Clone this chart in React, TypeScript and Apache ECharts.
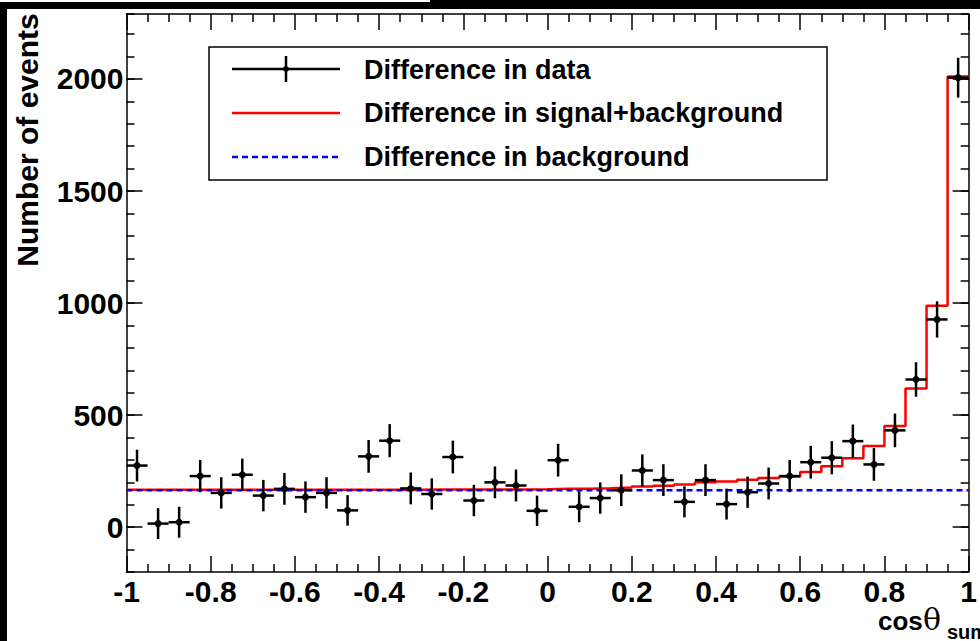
import React, { useEffect, useRef } from "react";
import * as echarts from "echarts";

// Bin centres (40 bins of width 0.05 between -1 and 1)
const binCenters = [
  -0.975, -0.925, -0.875, -0.825, -0.775, -0.725, -0.675, -0.625, -0.575, -0.525,
  -0.475, -0.425, -0.375, -0.325, -0.275, -0.225, -0.175, -0.125, -0.075, -0.025,
  0.025, 0.075, 0.125, 0.175, 0.225, 0.275, 0.325, 0.375, 0.425, 0.475,
  0.525, 0.575, 0.625, 0.675, 0.725, 0.775, 0.825, 0.875, 0.925, 0.975,
];
// Lower bin edges (+ the upper edge of the last bin)
const binEdges = [
  -1.0, -0.95, -0.9, -0.85, -0.8, -0.75, -0.7, -0.65, -0.6, -0.55,
  -0.5, -0.45, -0.4, -0.35, -0.3, -0.25, -0.2, -0.15, -0.1, -0.05,
  0.0, 0.05, 0.1, 0.15, 0.2, 0.25, 0.3, 0.35, 0.4, 0.45,
  0.5, 0.55, 0.6, 0.65, 0.7, 0.75, 0.8, 0.85, 0.9, 0.95, 1.0,
];
const halfBin = 0.025;

// Difference in data
const dataValues = [
  275, 16, 22, 228, 153, 234, 141, 171, 134, 153,
  75, 316, 386, 173, 148, 313, 119, 200, 186, 73,
  299, 91, 130, 165, 253, 210, 113, 210, 103, 156,
  195, 228, 290, 310, 384, 280, 432, 659, 927, 2006,
];
const dataErrors = [
  71, 69, 69, 72, 70, 72, 70, 71, 70, 70,
  68, 73, 74, 71, 70, 73, 70, 71, 71, 68,
  73, 69, 70, 71, 72, 71, 69, 71, 69, 70,
  71, 72, 73, 74, 74, 73, 75, 77, 81, 89,
];
// Difference in signal+background (histogram)
const sigBkgValues = [
  167, 167, 167, 167, 167, 167, 167, 167, 167, 167,
  167, 167, 167, 167, 168, 168, 168, 168, 168, 169,
  171, 172, 174, 177, 181, 185, 190, 200, 204, 212,
  219, 226, 246, 272, 308, 362, 451, 619, 988, 2011,
];
// Difference in background (flat)
const bkgLevel = 165;

const xMin = -1;
const xMax = 1;
const yMin = -200;
const yMax = 2290;
const yMajorTicks = [0, 500, 1000, 1500, 2000];

const legendLabels = [
  "Difference in data",
  "Difference in signal+background",
  "Difference in background",
];

const FONT = "'Liberation Sans', Arial, Helvetica, sans-serif";

export default function App() {
  const ref = useRef<HTMLDivElement>(null);

  useEffect(() => {
    if (!ref.current) return;
    const chart = echarts.init(ref.current, undefined, { renderer: "svg" });

    const histData: number[][] = sigBkgValues.map((v, i) => [binEdges[i], v]);
    histData.push([binEdges[binEdges.length - 1], sigBkgValues[sigBkgValues.length - 1]]);

    const pointData = binCenters.map((x, i) => [x, dataValues[i], dataErrors[i]]);

    const black = "#000";
    const tickStyle = { color: black, width: 1.5 };
    const labelStyle = {
      fontSize: 30,
      fontWeight: "bold" as const,
      fontFamily: FONT,
      color: black,
    };
    const fmtX = (v: number) => {
      const r = Math.round(v * 10) / 10;
      return String(r === 0 ? 0 : r);
    };
    const fmtY = (v: number) => String(Math.round(v));

    const axisLineCfg = { show: true, onZero: false, lineStyle: tickStyle };

    const option: any = {
      animation: false,
      backgroundColor: "#fff",
      grid: { left: 126.5, top: 14, width: 854, height: 558, containLabel: false },
      xAxis: [
        {
          type: "value",
          position: "bottom",
          min: xMin,
          max: xMax,
          interval: 0.2,
          axisLine: axisLineCfg,
          axisTick: { show: true, inside: true, length: 16, lineStyle: tickStyle },
          minorTick: { show: true, splitNumber: 4, length: 8, lineStyle: tickStyle },
          splitLine: { show: false },
          minorSplitLine: { show: false },
          axisLabel: { ...labelStyle, margin: 4, formatter: fmtX },
        },
        {
          type: "value",
          position: "top",
          min: xMin,
          max: xMax,
          interval: 0.2,
          axisLine: axisLineCfg,
          axisTick: { show: true, inside: true, length: 16, lineStyle: tickStyle },
          minorTick: { show: true, splitNumber: 4, length: 8, lineStyle: tickStyle },
          splitLine: { show: false },
          minorSplitLine: { show: false },
          axisLabel: { show: false },
        },
      ],
      yAxis: [
        {
          type: "value",
          position: "left",
          min: yMin,
          max: yMax,
          interval: 100,
          axisLine: axisLineCfg,
          axisTick: { show: true, inside: true, length: 8, lineStyle: tickStyle },
          splitLine: { show: false },
          axisLabel: { show: false },
        },
        {
          type: "value",
          position: "left",
          min: yMin,
          max: yMax,
          interval: 100,
          axisLine: { show: false, onZero: false },
          axisTick: { show: true, inside: true, length: 16, lineStyle: tickStyle, customValues: yMajorTicks },
          splitLine: { show: false },
          axisLabel: { ...labelStyle, margin: 3, customValues: yMajorTicks, formatter: fmtY },
        },
        {
          type: "value",
          position: "right",
          min: yMin,
          max: yMax,
          interval: 100,
          axisLine: axisLineCfg,
          axisTick: { show: true, inside: true, length: 8, lineStyle: tickStyle },
          splitLine: { show: false },
          axisLabel: { show: false },
        },
        {
          type: "value",
          position: "right",
          min: yMin,
          max: yMax,
          interval: 100,
          axisLine: { show: false, onZero: false },
          axisTick: { show: true, inside: true, length: 16, lineStyle: tickStyle, customValues: yMajorTicks },
          splitLine: { show: false },
          axisLabel: { show: false },
        },
      ],
      series: [
        {
          name: legendLabels[1],
          type: "line",
          xAxisIndex: 0,
          yAxisIndex: 0,
          step: "end",
          data: histData,
          symbol: "none",
          lineStyle: { color: "#ff0000", width: 2.5 },
          z: 2,
        },
        {
          name: legendLabels[2],
          type: "line",
          xAxisIndex: 0,
          yAxisIndex: 0,
          data: [
            [xMin, bkgLevel],
            [xMax, bkgLevel],
          ],
          symbol: "none",
          lineStyle: { color: "#0000ff", width: 2.5, type: [6, 4] },
          z: 3,
        },
        {
          name: legendLabels[0],
          type: "custom",
          xAxisIndex: 0,
          yAxisIndex: 0,
          data: pointData,
          z: 4,
          renderItem: (params: any, api: any) => {
            const x = api.value(0);
            const y = api.value(1);
            const e = api.value(2);
            const c = api.coord([x, y]);
            const top = api.coord([x, y + e]);
            const bot = api.coord([x, y - e]);
            const l = api.coord([x - halfBin, y]);
            const r = api.coord([x + halfBin, y]);
            const st = { stroke: black, lineWidth: 2.5 };
            return {
              type: "group",
              children: [
                { type: "line", shape: { x1: c[0], y1: top[1], x2: c[0], y2: bot[1] }, style: st },
                { type: "line", shape: { x1: l[0], y1: c[1], x2: r[0], y2: c[1] }, style: st },
                { type: "circle", shape: { cx: c[0], cy: c[1], r: 3.5 }, style: { fill: black } },
              ],
            };
          },
        },
      ],
      graphic: [
        // black scan borders
        { type: "rect", shape: { x: 0, y: 0, width: 980, height: 9 }, style: { fill: "#000" }, z: 100 },
        { type: "rect", shape: { x: 0, y: 0, width: 430, height: 2 }, style: { fill: "#fff" }, z: 101 },
        { type: "rect", shape: { x: 0, y: 0, width: 7, height: 641 }, style: { fill: "#000" }, z: 100 },
        // y-axis title
        {
          type: "text",
          x: 27,
          y: 140,
          rotation: Math.PI / 2,
          style: {
            text: "Number of events",
            font: `bold 30px ${FONT}`,
            fill: black,
            align: "center",
            verticalAlign: "middle",
          },
          z: 50,
        },
        // x-axis title
        {
          type: "text",
          x: 878,
          y: 621,
          style: {
            text: "cos",
            font: `bold 26px ${FONT}`,
            fill: black,
            align: "left",
            verticalAlign: "middle",
          },
          z: 50,
        },
        {
          type: "text",
          x: 923,
          y: 619,
          style: {
            text: "θ",
            font: `30px 'DejaVu Serif', serif`,
            fill: black,
            align: "left",
            verticalAlign: "middle",
          },
          z: 50,
        },
        {
          type: "text",
          x: 947,
          y: 632,
          style: {
            text: "sum",
            font: `bold 20px ${FONT}`,
            fill: black,
            align: "left",
            verticalAlign: "middle",
          },
          z: 50,
        },
        // legend box
        {
          type: "rect",
          shape: { x: 209, y: 47, width: 618, height: 133 },
          style: { fill: "#fff", stroke: black, lineWidth: 1.5 },
          z: 40,
        },
        { type: "line", shape: { x1: 232, y1: 69, x2: 340, y2: 69 }, style: { stroke: black, lineWidth: 2.5 }, z: 41 },
        { type: "line", shape: { x1: 286, y1: 56, x2: 286, y2: 82 }, style: { stroke: black, lineWidth: 2.5 }, z: 41 },
        { type: "circle", shape: { cx: 286, cy: 69, r: 3 }, style: { fill: black }, z: 41 },
        { type: "line", shape: { x1: 232, y1: 113, x2: 340, y2: 113 }, style: { stroke: "#ff0000", lineWidth: 2.5 }, z: 41 },
        {
          type: "line",
          shape: { x1: 232, y1: 157, x2: 338, y2: 157 },
          style: { stroke: "#0000ff", lineWidth: 2.5, lineDash: [6, 4] },
          z: 41,
        },
        ...legendLabels.map((t, i) => ({
          type: "text",
          x: 364,
          y: [70, 113, 157][i],
          style: {
            text: t,
            font: `bold 27px ${FONT}`,
            fill: black,
            align: "left",
            verticalAlign: "middle",
          },
          z: 41,
        })),
      ],
    };

    chart.setOption(option);
    return () => chart.dispose();
  }, []);

  return (
    <div
      ref={ref}
      style={{ position: "absolute", left: 0, top: 0, width: 980, height: 641 }}
    />
  );
}
